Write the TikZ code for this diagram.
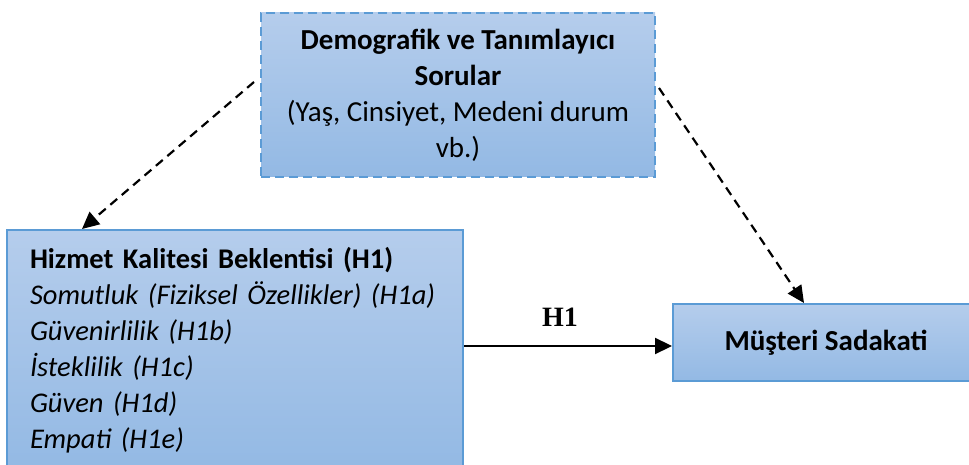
\documentclass[tikz,border=0pt]{standalone}
\usepackage{fontspec}
\setmainfont{Carlito}
\newfontfamily\timesfont{Liberation Serif}
\usetikzlibrary{arrows.meta}
\definecolor{boxtop}{RGB}{181,205,236}
\definecolor{boxbottom}{RGB}{147,185,228}
\definecolor{boxline}{RGB}{91,155,213}
\begin{document}
\begin{tikzpicture}[x=1pt, y=1pt, >={Triangle[length=17pt,width=16pt]}, line width=2.2pt,
    kutu/.style={rectangle, top color=boxtop, bottom color=boxbottom, draw=boxline, line width=2pt, font=\fontsize{29}{36}\selectfont}]
        \clip (0,0) rectangle (969,464);
        \node[kutu, dashed, dash pattern=on 9pt off 5pt, align=center, minimum width=394pt, minimum height=164pt] (demo) at (458, 369) {\textbf{Demografik ve Tanımlayıcı}\\ \textbf{Sorular}\\ (Yaş, Cinsiyet, Medeni durum\\ vb.)};
        \node[kutu, align=left, text width=410pt, inner xsep=23pt, minimum width=456pt, minimum height=240pt, font=\fontsize{28.5}{36}\selectfont] (hizmet) at (235, 114) {\textbf{Hizmet Kalitesi Beklentisi (H1)}\\ \textit{Somutluk (Fiziksel Özellikler) (H1a)}\\ \textit{Güvenirlilik (H1b)}\\ \textit{İsteklilik (H1c)}\\ \textit{Güven (H1d)}\\ \textit{Empati (H1e)}};
        \node[kutu, minimum width=306pt, minimum height=77pt, font=\fontsize{29}{36}\selectfont\bfseries] (musteri) at (826, 121.5) {Müşteri Sadakati};
        % H1 connector
        \coordinate (h1end) at ([yshift=-3.5pt]musteri.west);
        \draw[->] (hizmet.east |- h1end) to (h1end);
        \node[font=\fontsize{28}{32}\selectfont\timesfont\bfseries] (h1) at (560, 147) {H1};
        % dashed connectors from the demographic box
        \coordinate (demoleft) at ([xshift=-6pt, yshift=13pt]demo.west);
        \coordinate (demoright) at ([xshift=3pt, yshift=7pt]demo.east);
        \draw[->, dashed, dash pattern=on 9pt off 6pt] (demoleft) to ([xshift=76pt]hizmet.north west);
        \draw[->, dashed, dash pattern=on 9pt off 6pt] (demoright) to ([xshift=132pt]musteri.north west);
    \end{tikzpicture}
\end{document}
